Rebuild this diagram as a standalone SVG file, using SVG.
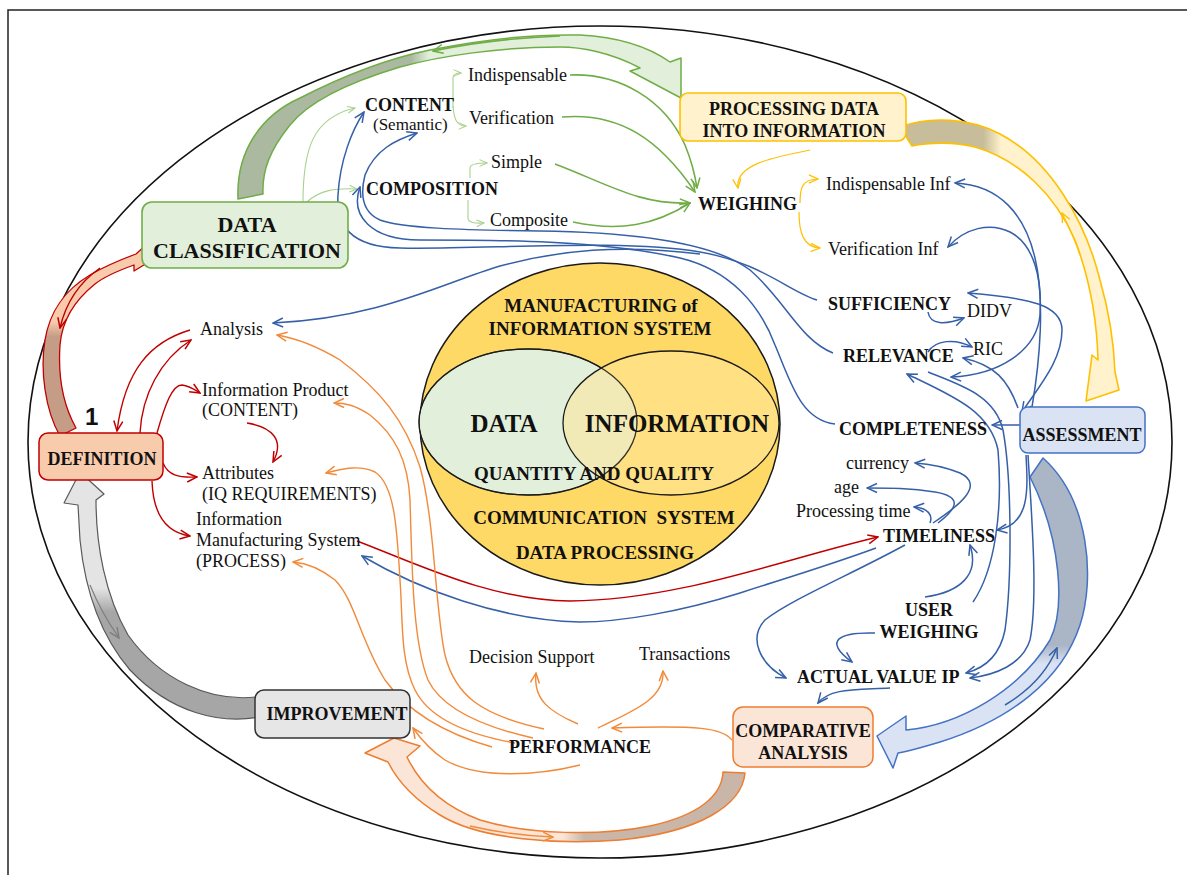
<svg xmlns="http://www.w3.org/2000/svg" width="1187" height="875" viewBox="0 0 1187 875">
<style>
text{font-family:"Liberation Serif","Times New Roman",serif;font-size:18px;fill:#111}
.b{font-weight:bold}
.c{text-anchor:middle}
.s17{font-size:17px}
.s19{font-size:19px}
.s22{font-size:22px}
.s25{font-size:25px}
.one{font-family:"Liberation Sans",Arial,sans-serif;font-size:24px;font-weight:bold}
.lb{fill:none;stroke:#3560A8;stroke-width:1.5}
.lg{fill:none;stroke:#70AD47;stroke-width:1.6}
.llg{fill:none;stroke:#A9D18E;stroke-width:1.1}
.ly{fill:none;stroke:#FFC000;stroke-width:1.2}
.lr{fill:none;stroke:#C00000;stroke-width:1.4}
.lo{fill:none;stroke:#F28A3A;stroke-width:1.4}
.lgr{fill:none;stroke:#7F7F7F;stroke-width:1.2}
.mb{marker-end:url(#mB)}
.mg{marker-end:url(#mG)}
.mlg{marker-end:url(#mLG)}
.my{marker-end:url(#mY)}
.mr{marker-end:url(#mR)}
.mo{marker-end:url(#mO)}
.mgr{marker-end:url(#mGr)}
</style>
<defs>
<marker id="mB" viewBox="0 0 12 12" refX="11" refY="6" markerWidth="12" markerHeight="12" markerUnits="userSpaceOnUse" orient="auto-start-reverse"><path d="M1,1.5 L11,6 L1,10.5" fill="none" stroke="#3560A8" stroke-width="1.5"/></marker>
<marker id="mG" viewBox="0 0 12 12" refX="11" refY="6" markerWidth="12" markerHeight="12" markerUnits="userSpaceOnUse" orient="auto-start-reverse"><path d="M1,1.5 L11,6 L1,10.5" fill="none" stroke="#70AD47" stroke-width="1.5"/></marker>
<marker id="mLG" viewBox="0 0 12 12" refX="11" refY="6" markerWidth="9" markerHeight="9" markerUnits="userSpaceOnUse" orient="auto-start-reverse"><path d="M1,1.5 L11,6 L1,10.5" fill="none" stroke="#A9D18E" stroke-width="1.4"/></marker>
<marker id="mY" viewBox="0 0 12 12" refX="11" refY="6" markerWidth="11" markerHeight="11" markerUnits="userSpaceOnUse" orient="auto-start-reverse"><path d="M1,1.5 L11,6 L1,10.5" fill="none" stroke="#FFC000" stroke-width="1.4"/></marker>
<marker id="mR" viewBox="0 0 12 12" refX="11" refY="6" markerWidth="12" markerHeight="12" markerUnits="userSpaceOnUse" orient="auto-start-reverse"><path d="M1,1.5 L11,6 L1,10.5" fill="none" stroke="#C00000" stroke-width="1.5"/></marker>
<marker id="mO" viewBox="0 0 12 12" refX="11" refY="6" markerWidth="12" markerHeight="12" markerUnits="userSpaceOnUse" orient="auto-start-reverse"><path d="M1,1.5 L11,6 L1,10.5" fill="none" stroke="#F28A3A" stroke-width="1.5"/></marker>
<marker id="mGr" viewBox="0 0 12 12" refX="11" refY="6" markerWidth="12" markerHeight="12" markerUnits="userSpaceOnUse" orient="auto-start-reverse"><path d="M1,1.5 L11,6 L1,10.5" fill="none" stroke="#7F7F7F" stroke-width="1.5"/></marker>
<linearGradient id="gG" gradientUnits="userSpaceOnUse" x1="238" y1="0" x2="460" y2="0"><stop offset="0" stop-color="#AAB9A0"/><stop offset="0.78" stop-color="#AAB9A0"/><stop offset="0.86" stop-color="#E2EFDA"/><stop offset="1" stop-color="#E2EFDA"/></linearGradient>
<linearGradient id="gY" gradientUnits="userSpaceOnUse" x1="900" y1="0" x2="1120" y2="0"><stop offset="0" stop-color="#C8BD9A"/><stop offset="0.38" stop-color="#C8BD9A"/><stop offset="0.46" stop-color="#FFF2CC"/><stop offset="1" stop-color="#FFF2CC"/></linearGradient>
<linearGradient id="gR" gradientUnits="userSpaceOnUse" x1="0" y1="436" x2="0" y2="255"><stop offset="0" stop-color="#C59C86"/><stop offset="0.55" stop-color="#C59C86"/><stop offset="0.63" stop-color="#F8CBAD"/><stop offset="1" stop-color="#F8CBAD"/></linearGradient>
<linearGradient id="gGr" gradientUnits="userSpaceOnUse" x1="0" y1="480" x2="0" y2="720"><stop offset="0" stop-color="#E4E4E4"/><stop offset="0.45" stop-color="#E4E4E4"/><stop offset="0.55" stop-color="#A6A6A6"/><stop offset="1" stop-color="#A6A6A6"/></linearGradient>
<linearGradient id="gO" gradientUnits="userSpaceOnUse" x1="380" y1="0" x2="745" y2="0"><stop offset="0" stop-color="#FBE5D6"/><stop offset="0.5" stop-color="#FBE5D6"/><stop offset="0.56" stop-color="#C9B6A8"/><stop offset="1" stop-color="#C9B6A8"/></linearGradient>
<linearGradient id="gB" gradientUnits="userSpaceOnUse" x1="0" y1="458" x2="0" y2="770"><stop offset="0" stop-color="#AAB5C6"/><stop offset="0.6" stop-color="#AAB5C6"/><stop offset="0.66" stop-color="#DAE3F3"/><stop offset="1" stop-color="#DAE3F3"/></linearGradient>
</defs>

<rect x="8" y="10" width="1195" height="885" fill="#FFFFFF" stroke="#222" stroke-width="1.5"/>
<ellipse cx="600" cy="442" rx="572" ry="416" fill="none" stroke="#111" stroke-width="1.6"/>

<g id="core">
<ellipse cx="600" cy="424" rx="180" ry="161" fill="#FFD966" stroke="#1a1a1a" stroke-width="1.5"/>
<ellipse cx="528" cy="422" rx="109" ry="73" fill="#E2EFDA" stroke="#1a1a1a" stroke-width="1.3"/>
<ellipse cx="671" cy="423" rx="108" ry="72" fill="#FFE699" fill-opacity="0.55" stroke="#1a1a1a" stroke-width="1.3"/>
<ellipse cx="528" cy="422" rx="109" ry="73" fill="none" stroke="#1a1a1a" stroke-width="1.1" stroke-opacity="0.8"/>
<text class="b c s19" x="601" y="312">MANUFACTURING of</text>
<text class="b c s19" x="600" y="335">INFORMATION SYSTEM</text>
<text class="b c s25" x="504" y="432">DATA</text>
<text class="b c s25" x="677" y="432">INFORMATION</text>
<text class="b c s19" x="594" y="480">QUANTITY AND QUALITY</text>
<text class="b c s19" x="604" y="524" style="white-space:pre">COMMUNICATION  SYSTEM</text>
<text class="b c s19" x="605" y="559">DATA PROCESSING</text>
</g>

<g id="connectors">
<path d="M238,199 C236,150 262,115 300,98 C345,75 390,58 430,50 C480,40 530,34 580,35 C620,37 650,48 670,62 L681,58 L681,98 L630,71 L640,68 C610,52 580,47 560,47 C500,47 440,56 400,67 C350,82 310,100 290,125 C270,150 262,170 263,194 Z" fill="url(#gG)" stroke="#70AD47" stroke-width="1.5" stroke-linejoin="round"/>
<path d="M900,127 C930,116 970,118 1000,134 C1050,160 1085,220 1100,280 C1110,315 1114,345 1115,372 L1119,390 L1086,401 L1092,355 L1098,360 C1097,320 1090,280 1075,240 C1055,195 1020,160 975,147 C955,142 930,142 912,146 Z" fill="url(#gY)" stroke="#FFC000" stroke-width="1.6" stroke-linejoin="round"/>
<path d="M1043,458 C1090,500 1095,580 1080,625 C1062,680 1010,720 940,742 C920,748 905,752 898,753 L893,768 L877,736 L906,716 L906,730 C960,725 1020,690 1050,640 C1065,610 1062,540 1030,477 Z" fill="url(#gB)" stroke="#4472C4" stroke-width="1.5" stroke-linejoin="round"/>
<path d="M745,773 C742,805 700,832 620,840 C560,845 480,840 440,815 C415,800 398,782 388,762 L365,753 L394,738 L420,746 L407,757 C418,780 440,805 480,820 C530,835 600,836 650,826 C700,815 722,795 723,772 Z" fill="url(#gO)" stroke="#ED7D31" stroke-width="1.5" stroke-linejoin="round"/>
<path d="M265,716 C220,726 170,712 130,670 C100,635 85,590 80,540 L78,505 L64,503 L80,472 L104,494 L96,500 C96,545 105,595 128,635 C160,680 210,702 256,697 Z" fill="url(#gGr)" stroke="#595959" stroke-width="1.2" stroke-linejoin="round"/>
<path d="M60,436 C45,410 40,370 45,340 C50,310 65,290 90,275 C105,266 120,260 136,254 L147,244 L157,257 L134,271 L134,265 C120,270 105,276 95,284 C75,300 62,320 60,345 C58,375 63,405 76,428 Z" fill="url(#gR)" stroke="#C00000" stroke-width="1.3" stroke-linejoin="round"/>
<path class="lg mg" d="M560,36 C510,38 470,43 433,51"/>
<path class="ly my" d="M1080,255 C1075,240 1068,225 1062,213"/>
<path class="lb mb" d="M1005,705 C1030,690 1048,670 1057,648"/>
<path class="lo mo" d="M470,826 C500,833 525,836 553,837"/>
<path class="lgr mgr" d="M90,585 C98,605 108,622 119,638"/>
<path class="lr mr" d="M100,268 C80,282 66,302 60,328"/>

<path class="llg mlg" d="M303,203 C303,150 312,118 355,108"/>
<path class="llg mlg" d="M307,202 C320,190 335,188 357,189"/>
<path class="llg mlg" d="M453,108 L453,78 Q453,73 461,73"/>
<path class="llg mlg" d="M453,106 C454,118 456,126 466,126"/>
<path class="llg mlg" d="M470,178 L470,168 Q470,163 487,163"/>
<path class="llg mlg" d="M468,200 L468,218 Q468,224 484,223"/>
<path class="lg mg" d="M570,75 C620,73 665,100 685,145 C692,162 695,175 697,188"/>
<path class="lg mg" d="M562,117 C620,112 660,140 695,192"/>
<path class="lg mg" d="M555,164 C610,185 640,205 690,203"/>
<path class="lg mg" d="M573,222 C620,232 655,225 690,203"/>

<path class="ly my" d="M810,150 C770,158 735,165 738,188"/>
<path class="ly my" d="M800,203 C800,188 802,179 818,179"/>
<path class="ly my" d="M799,212 C799,232 803,247 820,248"/>

<path class="lb mb" d="M817,300 C790,292 760,262 700,252 C620,238 480,250 400,248 C350,247 336,225 338,195 C340,160 352,130 364,112"/>
<path class="lb mb" d="M833,353 C800,340 785,300 750,270 C710,240 620,232 540,231 C460,230 400,228 380,220 C362,212 360,195 365,175 C375,150 395,140 417,133"/>
<path class="lb mb" d="M835,424 C800,420 790,380 775,345 C760,305 730,270 680,258 C600,240 500,240 420,240 C370,240 350,215 360,187"/>
<path class="lb mb" d="M700,254 C620,244 560,250 500,266 C440,284 380,318 273,323"/>
<path class="lb mb" d="M1020,425 L992,425"/>
<path class="lb mb" d="M1032,407 C1040,360 1045,300 1035,258 C1025,215 1000,185 955,183"/>
<path class="lb mb" style="marker-start:url(#mB)" d="M948,247 C965,228 990,222 1010,232 C1035,245 1042,280 1040,315 C1037,350 1000,375 951,377"/>
<path class="lb mb" style="marker-start:url(#mB)" d="M968,293 C1030,298 1062,305 1062,330 C1062,360 1040,385 1022,412"/>
<path class="lb mb" d="M1018,408 C1008,380 995,365 963,358"/>
<path class="lb mb" d="M928,312 C930,325 945,325 964,318"/>
<path class="lb mb" d="M928,352 C935,340 955,338 972,347"/>
<path class="lb mb" d="M928,372 C960,385 995,395 1003,430 C1012,480 1012,580 1005,630 C1000,655 985,668 966,673"/>
<path class="lb" style="marker-start:url(#mB)" d="M907,374 C950,395 990,410 998,450 C1003,510 995,570 973,602"/>
<path class="lb mb" d="M1028,455 C1032,520 1038,600 1030,640 C1022,665 995,675 970,678"/>
<path class="lb mb" d="M1026,455 C1028,490 1030,525 997,530"/>
<path class="lb mb" d="M933,523 C960,505 985,485 960,473 C945,467 930,464 915,463"/>
<path class="lb mb" d="M938,523 C955,510 965,497 935,492 C910,488 890,488 867,488"/>
<path class="lb mb" d="M930,523 C933,515 928,508 914,507"/>
<path class="lb mb" d="M925,597 C960,592 980,575 970,545"/>
<path class="lb mb" d="M875,633 C840,632 822,640 852,662"/>
<path class="lb mb" d="M890,688 C855,690 830,688 818,703"/>
<path class="lb mb" d="M876,548 C830,565 780,580 740,593 C680,612 620,622 580,622 C500,620 420,590 362,556"/>
<path class="lb mb" d="M905,545 C850,575 790,600 765,620 C748,638 760,665 786,678"/>

<path class="lr mr" d="M190,330 C150,342 125,370 117,431"/>
<path class="lr mr" d="M140,433 C142,395 160,360 191,340"/>
<path class="lr mr" d="M157,433 C165,405 172,385 182,385 C190,386 195,390 200,393"/>
<path class="lr mr" d="M247,423 C272,427 285,440 273,462"/>
<path class="lr mr" d="M163,463 C168,475 178,478 197,477"/>
<path class="lr mr" d="M152,481 C153,510 163,532 190,536"/>
<path class="lr mr" d="M357,541 C420,565 490,600 570,601 C680,600 780,560 878,537"/>

<path class="lo mo" d="M544,729 C480,715 455,695 445,655 C435,610 435,520 420,467 C405,420 380,390 340,360 C315,345 295,338 277,335"/>
<path class="lo mo" d="M533,738 C475,725 440,705 428,680 C412,640 412,560 410,500 C408,460 395,435 370,415 C355,405 345,403 334,403"/>
<path class="lo mo" d="M515,743 C470,735 430,720 415,690 C400,660 403,620 400,580 C397,530 395,485 375,472 C360,465 345,468 326,473"/>
<path class="lo mo" d="M492,747 C450,735 410,715 385,680 C360,640 355,600 335,580 C320,568 305,563 293,562"/>
<path class="lo mo" d="M580,765 C540,775 480,780 445,760 C430,750 420,738 413,728"/>
<path class="lo mo" d="M732,740 C722,728 700,725 612,728"/>
<path class="lo mo" d="M578,724 C550,712 533,700 536,673"/>
<path class="lo mo" d="M598,728 C630,712 665,700 663,671"/>
</g>

<g id="data-classification"><rect x="142" y="202" width="206" height="66" rx="10" fill="#E2EFDA" stroke="#70AD47" stroke-width="1.6"/><text class="b c s22" x="247" y="232">DATA</text><text class="b c s22" x="247" y="258">CLASSIFICATION</text></g>
<g id="processing"><rect x="680" y="93" width="226" height="48" rx="8" fill="#FFF2CC" stroke="#FFC000" stroke-width="1.6"/><text class="b c" x="794" y="115">PROCESSING DATA</text><text class="b c" x="794" y="137">INTO INFORMATION</text></g>
<g id="definition"><rect x="39" y="433" width="124" height="47" rx="9" fill="#F8CBAD" stroke="#C00000" stroke-width="1.5"/><text class="b c" x="102" y="465">DEFINITION</text><text class="one" x="85" y="425">1</text></g>
<g id="assessment"><rect x="1020" y="407" width="125" height="46" rx="8" fill="#DAE3F3" stroke="#4472C4" stroke-width="1.5"/><text class="b c" x="1082" y="441">ASSESSMENT</text></g>
<g id="improvement"><rect x="255" y="690" width="155" height="48" rx="9" fill="#E6E6E6" stroke="#333" stroke-width="1.5"/><text class="b c" x="337" y="720">IMPROVEMENT</text></g>
<g id="comparative"><rect x="733" y="707" width="140" height="60" rx="10" fill="#FBE5D6" stroke="#ED7D31" stroke-width="1.5"/><text class="b c" x="803" y="737">COMPARATIVE</text><text class="b c" x="803" y="759">ANALYSIS</text></g>

<g id="content"><text class="b" x="365" y="111">CONTENT</text><text class="s17" x="373" y="130">(Semantic)</text></g>
<g id="indispensable"><text x="468" y="81">Indispensable</text></g>
<g id="verification"><text x="469" y="124">Verification</text></g>
<g id="composition"><text class="b" x="366" y="195">COMPOSITION</text></g>
<g id="simple"><text x="491" y="168">Simple</text></g>
<g id="composite"><text x="490" y="226">Composite</text></g>
<g id="weighing"><text class="b" x="698" y="210">WEIGHING</text></g>
<g id="indispensable-inf"><text x="826" y="190">Indispensable Inf</text></g>
<g id="verification-inf"><text x="828" y="255">Verification Inf</text></g>
<g id="sufficiency"><text class="b" x="828" y="310">SUFFICIENCY</text></g>
<g id="didv"><text x="967" y="317">DIDV</text></g>
<g id="relevance"><text class="b" x="843" y="362">RELEVANCE</text></g>
<g id="ric"><text x="973" y="355">RIC</text></g>
<g id="completeness"><text class="b" x="839" y="435">COMPLETENESS</text></g>
<g id="currency"><text x="846" y="469">currency</text></g>
<g id="age"><text x="834" y="493">age</text></g>
<g id="processing-time"><text x="796" y="517">Processing time</text></g>
<g id="timeliness"><text class="b" x="883" y="542">TIMELINESS</text></g>
<g id="user-weighing"><text class="b c" x="929" y="616">USER</text><text class="b c" x="929" y="638">WEIGHING</text></g>
<g id="actual-value"><text class="b" x="797" y="683">ACTUAL VALUE IP</text></g>
<g id="performance"><text class="b" x="509" y="753">PERFORMANCE</text></g>
<g id="decision-support"><text x="469" y="663">Decision Support</text></g>
<g id="transactions"><text x="639" y="660">Transactions</text></g>
<g id="analysis"><text x="200" y="335">Analysis</text></g>
<g id="information-product"><text x="202" y="396">Information Product</text><text x="202" y="416">(CONTENT)</text></g>
<g id="attributes"><text x="202" y="479">Attributes</text><text x="202" y="500">(IQ REQUIREMENTS)</text></g>
<g id="ims"><text x="196" y="525">Information</text><text x="196" y="546">Manufacturing System</text><text x="196" y="567">(PROCESS)</text></g>
</svg>
